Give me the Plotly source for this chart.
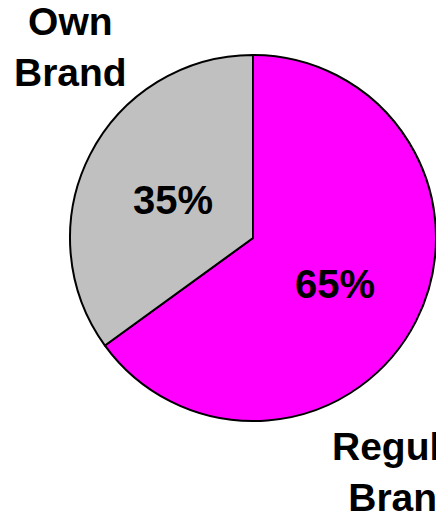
import plotly.graph_objects as go

# Share of purchases by brand type
labels = ["Regular Brand", "Own Brand"]
values = [65, 35]
colors = ["#FF00FF", "#C0C0C0"]

W, H = 436, 515
total = sum(values)
pct = [f"{round(v / total * 100)}%" for v in values]

fig = go.Figure(
    go.Pie(
        labels=labels,
        values=values,
        sort=False,
        direction="clockwise",
        rotation=0,
        marker=dict(colors=colors, line=dict(color="black", width=2)),
        textinfo="none",
        hoverinfo="label+percent",
        domain=dict(x=[70 / W, 1.0], y=[94 / H, 460 / H]),
        showlegend=False,
    )
)

family = "Liberation Sans, Arial, sans-serif"
label_font = dict(family=family, size=39, color="black")
pct_font = dict(family=family, size=40, color="black")


def px(x, y):
    return x / W, 1 - y / H


annotations = []
# category labels outside the pie
for text, (x, y) in [
    ("<b>Own<br>Brand</b>", (70, 47)),
    ("<b>Regular<br>Brand</b>", (404, 472)),
]:
    ax, ay = px(x, y)
    annotations.append(dict(text=text, x=ax, y=ay, xref="paper", yref="paper",
                            showarrow=False, font=label_font, xanchor="center",
                            yanchor="middle", align="center"))
# percentage labels inside the slices
for text, (x, y) in zip(pct, [(335, 284), (173, 200)]):
    ax, ay = px(x, y)
    annotations.append(dict(text=f"<b>{text}</b>", x=ax, y=ay, xref="paper",
                            yref="paper", showarrow=False, font=pct_font,
                            xanchor="center", yanchor="middle"))

fig.update_layout(
    width=W,
    height=H,
    margin=dict(l=0, r=0, t=0, b=0),
    paper_bgcolor="white",
    plot_bgcolor="white",
    annotations=annotations,
)

fig.write_html("out.html")
